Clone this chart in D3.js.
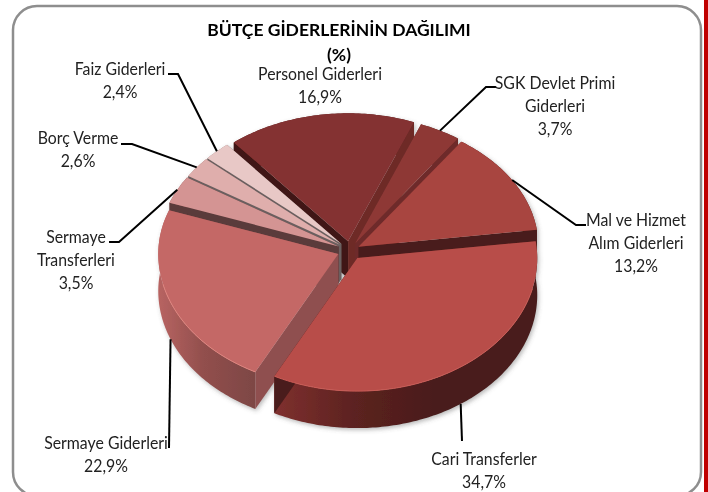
<!DOCTYPE html>
<html>
<head>
<meta charset="utf-8">
<script src="https://d3js.org/d3.v7.min.js"></script>
<style>
  html, body { margin: 0; padding: 0; background: #fff; overflow: hidden; }
  text { font-family: Lato, "Open Sans", sans-serif; }
</style>
</head>
<body>
<div id="chart"></div>
<script>
// chart data
var categories = ["Personel Giderleri", "SGK Devlet Primi Giderleri", "Mal ve Hizmet Alım Giderleri", "Cari Transferler",
  "Sermaye Giderleri", "Sermaye Transferleri", "Borç Verme", "Faiz Giderleri"];
var values = [16.9, 3.7, 13.2, 34.7, 22.9, 3.5, 2.6, 2.4];
var titleLines = ["BÜTÇE GİDERLERİNİN DAĞILIMI", "(%)"];

// category names broken the way the labels break them
var labelLines = [["Personel Giderleri"], ["SGK Devlet Primi", "Giderleri"], ["Mal ve Hizmet", "Alım  Giderleri"], ["Cari Transferler"],
  ["Sermaye Giderleri"], ["Sermaye", "Transferleri"], ["Borç Verme"], ["Faiz Giderleri"]];

// styles
var topColors = ["#843232", "#8e3936", "#a8443f", "#b84e4a", "#c46866", "#d49493", "#dfaeac", "#e8c8c6"];
var startFaceColors = ["#3f1513", "#6e2b29", "#6e2b29", "#6e2b29", "#8f5050", "#5a3a3a", "#6b5f5f", "#6b5f5f"];
var endFaceColors = ["#6e2a28", "#6e2b29", "#4a1c1a", "#4a1c1a", "#8f5050", "#5a3a3a", "#6b5f5f", "#6b5f5f"];
var rimColors = ["#843232", "#8e3936", "#a8443f", "#c95b56", "#e0857f", "#d49493", "#dfaeac", "#e8c8c6"];

// label placement: centre x, first baseline y, and the leader's bend and end
var labelX = [320, 555, 636, 484, 106, 76, 78, 120];
var labelY = [80, 89, 226, 465, 449, 243, 144, 75];
var leaderBends = [null, [[486, 87], [496, 87]], [[576, 225], [586, 225]], [[462, 441]],
  [[169, 448]], [[119, 242], [109, 242]], [[132, 144], [121, 144]], [[178, 74], [168, 74]]];

var svgWidth = 708;
var svgHeight = 492;
var lineGap = 23;

// pie geometry
var startAngle = -39.4 * Math.PI / 180;
var explode = [0.07, 0.06, 0.055, 0.07, 0.07, 0.07, 0.07, 0.07];
var wallHeight = 37;

var svg = d3.select("#chart")
  .append("svg")
  .attr("width", svgWidth)
  .attr("height", svgHeight)
  .style("display", "block");

var defs = svg.append("defs");

var shadow = defs.append("filter").attr("id", "pieShadow")
  .attr("x", "-10%").attr("y", "-10%").attr("width", "120%").attr("height", "120%");
shadow.append("feDropShadow")
  .attr("dx", 1.5).attr("dy", 2).attr("stdDeviation", 2)
  .attr("flood-color", "#555").attr("flood-opacity", 0.4);

// the reference is a slightly soft, enlarged image
defs.append("filter").attr("id", "soft")
  .append("feGaussianBlur").attr("stdDeviation", 0.35);

function wallGradient(id, x1, x2, stops) {
  var g = defs.append("linearGradient").attr("id", id)
    .attr("gradientUnits", "userSpaceOnUse")
    .attr("x1", x1).attr("x2", x2).attr("y1", 0).attr("y2", 0);
  stops.forEach(function(s) {
    g.append("stop").attr("offset", s[0]).attr("stop-color", s[1]);
  });
}
wallGradient("wallSermaye", 158, 258, [[0, "#b86462"], [0.45, "#924f4d"], [1, "#7c4644"]]);
wallGradient("wallCari", 276, 537, [[0, "#7e302e"], [0.3, "#5c2220"], [0.6, "#4a1c1a"], [1, "#4a1c1a"]]);

var wallFills = ["#5c2220", "#5c2220", "#5c2220", "url(#wallCari)", "url(#wallSermaye)", "#8f5050", "#a07070", "#a08080"];

var root = svg.append("g").attr("filter", "url(#soft)");

// frame runs off the bottom of the page, red strip at the page edge
root.append("rect")
  .attr("x", 13).attr("y", 6)
  .attr("width", 688).attr("height", 490)
  .attr("rx", 24)
  .attr("fill", "#fff")
  .attr("stroke", "#8e8e8e")
  .attr("stroke-width", 2.5);

svg.append("rect")
  .attr("x", 704).attr("y", 0)
  .attr("width", 4).attr("height", svgHeight)
  .attr("fill", "#c00000");

// scales from the unit circle to the page, the far half of the pie is a bit flatter
var xScale = d3.scaleLinear().domain([-1, 0, 1]).range([-180, 0, 180]);
var yScale = d3.scaleLinear().domain([-1, 0, 1]).range([-128, 0, 133]);
var centerX = 350;
var centerY = 250.5;

var pie = d3.pie()
  .sort(null)
  .startAngle(startAngle)
  .endAngle(startAngle + 2 * Math.PI);

var line = d3.line();

var slices = pie(values).map(function(d, i) {
  var mid = (d.startAngle + d.endAngle) / 2;
  return {
    index: i,
    a0: d.startAngle,
    a1: d.endAngle,
    mid: mid,
    apex: [centerX + explode[i] * 180 * Math.sin(mid), centerY - explode[i] * 133 * Math.cos(mid)]
  };
});

function rimPoint(s, a, drop) {
  return [s.apex[0] + xScale(Math.sin(a)), s.apex[1] + yScale(-Math.cos(a)) + (drop || 0)];
}

function arcPoints(s, a0, a1, drop) {
  var n = Math.max(2, Math.ceil((a1 - a0) * 60));
  return d3.range(n + 1).map(function(k) {
    return rimPoint(s, a0 + (a1 - a0) * k / n, drop);
  });
}

function cutFace(s, a) {
  var rim = rimPoint(s, a);
  return line([s.apex, rim, [rim[0], rim[1] + wallHeight], [s.apex[0], s.apex[1] + wallHeight]]) + "Z";
}

var pieGroup = root.append("g").attr("filter", "url(#pieShadow)");

// back slices first so the front ones cover them
var ordered = slices.slice().sort(function(a, b) {
  return d3.ascending(-Math.cos(a.mid), -Math.cos(b.mid));
});

ordered.forEach(function(s) {
  var g = pieGroup.append("g");
  var top = arcPoints(s, s.a0, s.a1, 0);
  var bottom = arcPoints(s, s.a0, s.a1, wallHeight).reverse();

  g.append("path").attr("d", line(top.concat(bottom)) + "Z").attr("fill", wallFills[s.index]);
  g.append("path").attr("d", cutFace(s, s.a0)).attr("fill", startFaceColors[s.index]);
  g.append("path").attr("d", cutFace(s, s.a1)).attr("fill", endFaceColors[s.index]);
  g.append("path").attr("d", line([s.apex].concat(top)) + "Z").attr("fill", topColors[s.index]);

  var front = top.filter(function(p) { return p[1] > s.apex[1] + 30; });
  if (front.length > 1) {
    g.append("path")
      .attr("d", line(front))
      .attr("fill", "none")
      .attr("stroke", rimColors[s.index])
      .attr("stroke-width", 1);
  }
});

// leader lines start on the slice edge at its middle angle
slices.forEach(function(s) {
  var bends = leaderBends[s.index];
  if (!bends) return;
  var front = -Math.cos(s.mid) > 0;
  var start = rimPoint(s, s.mid, front ? wallHeight : 0);
  root.append("path")
    .attr("d", line([start].concat(bends)))
    .attr("fill", "none")
    .attr("stroke", "#000")
    .attr("stroke-width", 2);
});

// labels
function stretchedText(x, y, str, stretch) {
  return root.append("text")
    .attr("transform", "translate(" + x + "," + y + ") scale(" + stretch + ",1)")
    .attr("text-anchor", "middle")
    .attr("font-size", 16.5)
    .attr("fill", "#222")
    .text(str);
}

slices.forEach(function(s) {
  var rows = labelLines[s.index].concat([values[s.index].toFixed(1).replace(".", ",") + "%"]);
  rows.forEach(function(row, k) {
    stretchedText(labelX[s.index], labelY[s.index] + k * lineGap, row, 0.96);
  });
});

// title
titleLines.forEach(function(row, k) {
  stretchedText(339, 36 + k * 25, row, 1)
    .attr("font-size", 17.5)
    .attr("font-weight", 700)
    .attr("fill", "#000");
});
</script>
</body>
</html>
